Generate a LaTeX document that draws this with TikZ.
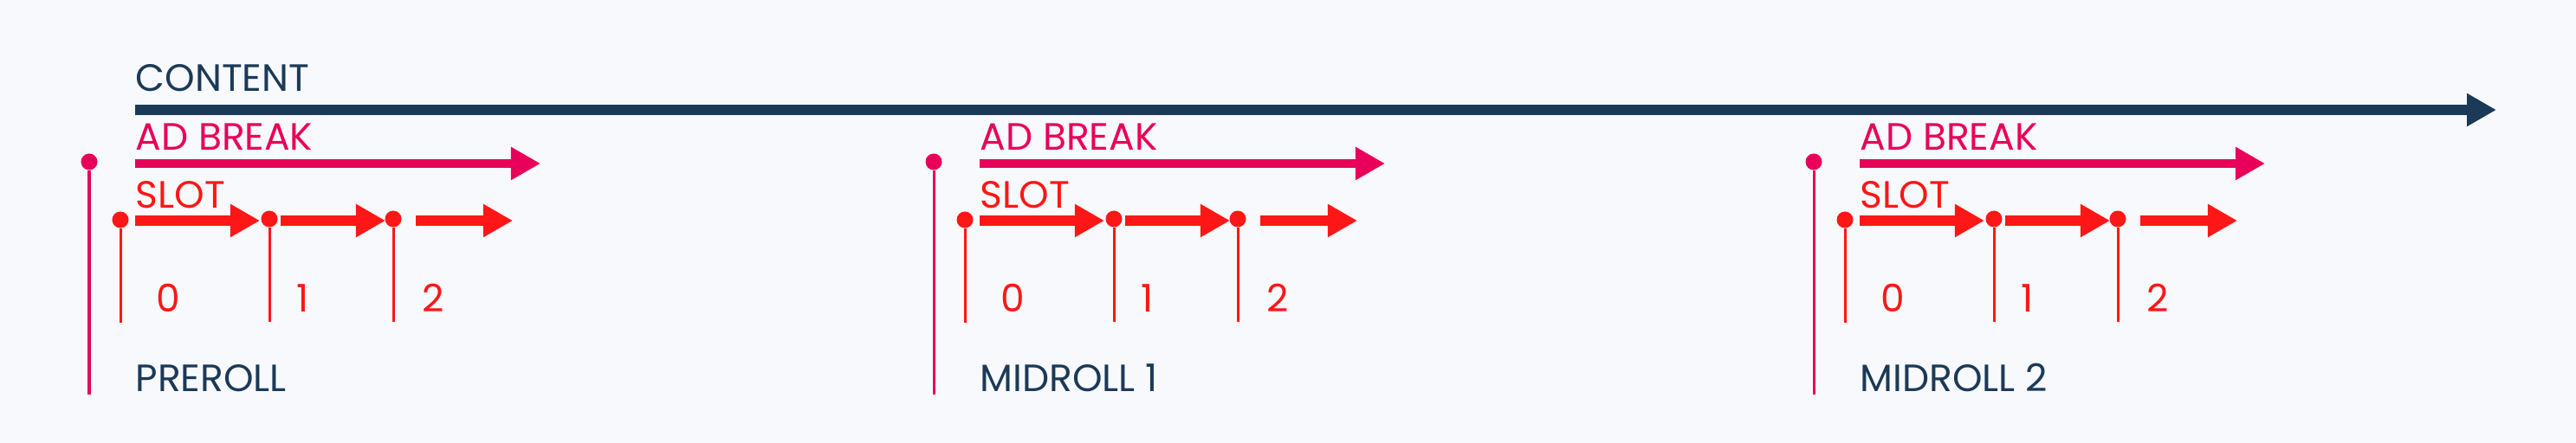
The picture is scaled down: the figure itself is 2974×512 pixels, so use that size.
\documentclass[tikz,border=0pt]{standalone}
\usepackage{fontspec}
\setmainfont{Poppins}
\usetikzlibrary{arrows.meta}
\definecolor{navy}{HTML}{1B3A57}
\definecolor{mag}{HTML}{E8005A}
\definecolor{sred}{HTML}{FF1616}
\definecolor{bg}{HTML}{F8F9FD}
\tikzset{
  lbl/.style={anchor=base west,inner sep=0pt,font=\fontsize{12.5}{14}\selectfont},
  dotn/.style={circle,fill=#1,inner sep=0pt,minimum size=0.19cm},
  bar/.style={line width=#1,-{Triangle[length=0.34cm,width=0.36cm]}},
}
\begin{document}
\begin{tikzpicture}[x=0.01cm,y=-0.01cm]
\fill[bg] (0,0) rectangle (2974,512);
\useasboundingbox (0,0) rectangle (2974,512);
\node[lbl,text=navy] (content) at (156,105) {CONTENT};
\coordinate (cs) at (156,127);
\coordinate (ce) at (2882,127);
\draw[navy,bar=0.12cm] (cs) -- (ce);
\foreach \o/\n/\t in {0/a/PREROLL,975/b/MIDROLL 1,1991/c/MIDROLL 2}{
  \begin{scope}[xshift=\o*0.01cm]
  \node[dotn=mag] (\n p) at (103,187) {};
  \coordinate (\n pb) at (103,456);
  \draw[mag,line width=0.03cm] (\n p) -- (\n pb);
  \node[lbl,text=mag] (\n ab) at (156,173) {AD BREAK};
  \coordinate (\n as) at (156,189);
  \coordinate (\n ae) at (624,189);
  \draw[mag,bar=0.10cm] (\n as) -- (\n ae);
  \node[lbl,text=sred] (\n sl) at (156,240) {SLOT};
  \node[dotn=sred] (\n d0) at (139,254) {};
  \node[dotn=sred] (\n d1) at (311,253) {};
  \node[dotn=sred] (\n d2) at (454,253) {};
  \coordinate (\n e0) at (139,373);
  \coordinate (\n e1) at (311,372);
  \coordinate (\n e2) at (454,372);
  \draw[sred,line width=0.03cm] (\n d0) -- (\n e0);
  \draw[sred,line width=0.03cm] (\n d1) -- (\n e1);
  \draw[sred,line width=0.03cm] (\n d2) -- (\n e2);
  \coordinate (\n s0) at (156,255); \coordinate (\n t0) at (300,255);
  \coordinate (\n s1) at (324,255); \coordinate (\n t1) at (445,255);
  \coordinate (\n s2) at (480,255); \coordinate (\n t2) at (592,255);
  \draw[sred,bar=0.11cm] (\n s0) -- (\n t0);
  \draw[sred,bar=0.11cm] (\n s1) -- (\n t1);
  \draw[sred,bar=0.11cm] (\n s2) -- (\n t2);
  \node[lbl,text=sred] (\n n0) at (180,360) {0};
  \node[lbl,text=sred] (\n n1) at (342,360) {1};
  \node[lbl,text=sred] (\n n2) at (487,360) {2};
  \node[lbl,text=navy] (\n t) at (156,452) {\t};
  \end{scope}
}
\end{tikzpicture}
\end{document}
